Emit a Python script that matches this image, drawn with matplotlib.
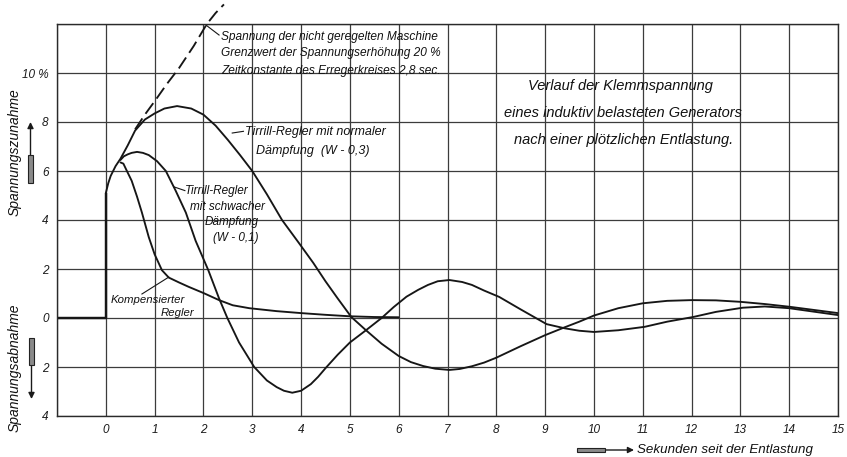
import matplotlib
matplotlib.use("Agg")
import matplotlib.pyplot as plt
from matplotlib.patches import Rectangle

plt.rcParams['font.family'] = ['Liberation Sans', 'DejaVu Sans']
plt.rcParams['font.style'] = 'italic'

# ---------------- data ----------------
t_before = [-1, 0, 0]
v_before = [0, 0, 5.1]

t_uncontrolled = [0.6, 0.8, 1.02, 1.25, 1.5, 1.8, 2.07, 2.25, 2.42]
v_uncontrolled = [7.7, 8.3, 8.9, 9.55, 10.2, 11.1, 12.0, 12.45, 12.8]

t_normal = [0, 0.05, 0.1, 0.2, 0.3, 0.45, 0.6, 0.8, 1.0, 1.2, 1.46, 1.75, 2.0, 2.25, 2.5,
            2.75, 3.0, 3.3, 3.61, 3.96, 4.25, 4.5, 4.75, 5.03, 5.33, 5.65, 6.0, 6.25, 6.5,
            6.75, 7.04, 7.25, 7.5, 7.75, 8.0, 8.5, 9.0, 9.4, 9.7, 10.0, 10.5, 11.0, 11.5,
            12.0, 12.5, 13.0, 13.5, 14.0, 14.5, 15.0]
v_normal = [5.1, 5.5, 5.8, 6.2, 6.5, 7.05, 7.65, 8.1, 8.35, 8.55, 8.65, 8.55, 8.3, 7.85, 7.27,
            6.65, 6.0, 5.05, 4.0, 3.05, 2.25, 1.5, 0.8, 0.04, -0.5, -1.05, -1.55, -1.8, -1.96,
            -2.07, -2.12, -2.08, -1.97, -1.82, -1.62, -1.15, -0.7, -0.38, -0.15, 0.1, 0.4, 0.6,
            0.7, 0.73, 0.72, 0.66, 0.57, 0.46, 0.33, 0.2]

t_weak = [0.3, 0.37, 0.45, 0.53, 0.64, 0.76, 0.88, 1.05, 1.23, 1.43, 1.64, 1.84, 2.1, 2.32,
          2.49, 2.73, 3.04, 3.3, 3.5, 3.65, 3.82, 4.0, 4.2, 4.35, 4.5, 4.75, 5.0, 5.33, 5.65,
          5.9, 6.16, 6.4, 6.6, 6.8, 7.04, 7.3, 7.5, 7.75, 8.06, 8.5, 9.03, 9.4, 9.7, 10.0,
          10.5, 11.04, 11.5, 12.03, 12.5, 13.05, 13.5, 14.0, 14.5, 15.0]
v_weak = [6.45, 6.6, 6.68, 6.74, 6.78, 6.74, 6.65, 6.4, 6.0, 5.2, 4.3, 3.15, 1.95, 0.8,
          0.0, -1.0, -2.0, -2.55, -2.82, -2.97, -3.05, -2.97, -2.7, -2.4, -2.05, -1.5, -1.0,
          -0.5, 0.0, 0.45, 0.87, 1.15, 1.35, 1.5, 1.55, 1.47, 1.35, 1.12, 0.86, 0.35, -0.25,
          -0.42, -0.52, -0.57, -0.5, -0.36, -0.15, 0.04, 0.25, 0.42, 0.47, 0.4, 0.26, 0.12]

t_comp = [0.3, 0.36, 0.42, 0.53, 0.64, 0.74, 0.88, 1.0, 1.15, 1.29, 1.5, 1.7, 2.0, 2.32,
          2.6, 2.94, 3.5, 4.0, 4.5, 5.0, 5.5, 6.0]
v_comp = [6.35, 6.3, 6.05, 5.6, 4.95, 4.3, 3.3, 2.6, 1.95, 1.65, 1.45, 1.27, 1.02, 0.73,
          0.52, 0.4, 0.28, 0.2, 0.13, 0.07, 0.04, 0.03]

x_ticks = list(range(-1, 16))
x_ticklabels = [''] + [str(i) for i in range(0, 16)]
y_ticks = [-4, -2, 0, 2, 4, 6, 8, 10, 12]
y_ticklabels = ['4', '2', '0', '2', '4', '6', '8', '10 %', '']

# ---------------- figure ----------------
W, H = 847, 457
fig = plt.figure(figsize=(W / 100, H / 100), dpi=100)
ax = fig.add_axes([57 / W, 41 / H, 781 / W, 392 / H])
ax.set_xlim(-1, 15)
ax.set_ylim(-4, 12)

ax.set_xticks(x_ticks)
ax.set_xticklabels(x_ticklabels)
ax.set_yticks(y_ticks)
ax.set_yticklabels(y_ticklabels)
ax.tick_params(length=0, labelsize=8.5, colors='#1a1a1a')
ax.tick_params(axis='x', pad=6)
ax.tick_params(axis='y', pad=6)
ax.grid(True, color='#3c3c3c', lw=0.9)
ax.set_axisbelow(True)
for s in ax.spines.values():
    s.set_color('#2a2a2a')
    s.set_linewidth(1.0)

lc = '#161616'
lw = 1.35
kw = dict(color=lc, lw=lw, solid_joinstyle='round', solid_capstyle='round')
ax.plot(t_before, v_before, color=lc, lw=lw + 0.4, solid_capstyle='butt')
ax.plot(t_normal, v_normal, **kw)
ax.plot(t_weak, v_weak, **kw)
ax.plot(t_comp, v_comp, **kw)
ax.plot(t_uncontrolled, v_uncontrolled, color=lc, lw=1.35, linestyle=(0, (7, 3)),
        clip_on=False)

# ---------------- annotations ----------------
fs_small = 8.6
tc = '#111111'
# uncontrolled machine
ax.plot([2.05, 2.32], [11.96, 11.55], color=lc, lw=0.8, clip_on=False)
ax.text(2.36, 11.47, 'Spannung der nicht geregelten Maschine', fontsize=fs_small,
        va='center', ha='left', color=tc)
ax.text(2.36, 10.82, 'Grenzwert der Spannungserhöhung 20 %', fontsize=fs_small,
        va='center', ha='left', color=tc)
ax.text(2.36, 10.1, 'Zeitkonstante des Erregerkreises 2,8 sec.', fontsize=fs_small,
        va='center', ha='left', color=tc)

# normal damping
ax.plot([2.59, 2.82], [7.55, 7.62], color=lc, lw=0.8)
ax.text(2.85, 7.6, 'Tirrill-Regler mit normaler', fontsize=9, va='center', ha='left', color=tc)
ax.text(3.08, 6.8, 'Dämpfung  (W - 0,3)', fontsize=9, va='center', ha='left', color=tc)

# weak damping
ax.plot([1.4, 1.62], [5.35, 5.2], color=lc, lw=0.8)
ax.text(1.63, 5.2, 'Tirrill-Regler', fontsize=8.5, va='center', ha='left', color=tc)
ax.text(1.72, 4.52, 'mit schwacher', fontsize=8.5, va='center', ha='left', color=tc)
ax.text(2.02, 3.9, 'Dämpfung', fontsize=8.5, va='center', ha='left', color=tc)
ax.text(2.2, 3.25, '(W - 0,1)', fontsize=8.5, va='center', ha='left', color=tc)

# compensated
ax.plot([1.29, 0.74], [1.67, 0.98], color=lc, lw=0.8)
ax.text(0.1, 0.74, 'Kompensierter', fontsize=8.2, va='center', ha='left', color=tc)
ax.text(1.12, 0.2, 'Regler', fontsize=8.2, va='center', ha='left', color=tc)

# title block
ax.text(10.55, 9.45, 'Verlauf der Klemmspannung', fontsize=10.5, va='center', ha='center', color=tc)
ax.text(10.6, 8.35, 'eines induktiv belasteten Generators', fontsize=10.5, va='center', ha='center', color=tc)
ax.text(10.6, 7.25, 'nach einer plötzlichen Entlastung.', fontsize=10.5, va='center', ha='center', color=tc)

# ---------------- axis titles with arrows ----------------
fig.text(15 / W, 1 - 152 / H, 'Spannungszunahme', rotation=90, fontsize=10,
         va='center', ha='center', color=tc)
fig.text(15 / W, 1 - 368 / H, 'Spannungsabnahme', rotation=90, fontsize=10,
         va='center', ha='center', color=tc)
fig.text(637 / W, 1 - 450 / H, 'Sekunden seit der Entlastung', fontsize=9.6,
         va='center', ha='left', color=tc)

def px(x, y):
    return (x / W, 1 - y / H)

# up arrow
fig.add_artist(Rectangle(px(28, 183), 5 / W, 28 / H, transform=fig.transFigure,
                         facecolor='#8a8a8a', edgecolor='#222222', lw=0.8))
ax.annotate('', xy=(30.5, H - 122), xytext=(30.5, H - 155), xycoords='figure pixels',
            textcoords='figure pixels',
            arrowprops=dict(arrowstyle='-|>', color='#1a1a1a', lw=1.0, mutation_scale=9,
                            shrinkA=0, shrinkB=0))
# down arrow
fig.add_artist(Rectangle(px(29, 365), 5 / W, 27 / H, transform=fig.transFigure,
                         facecolor='#8a8a8a', edgecolor='#222222', lw=0.8))
ax.annotate('', xy=(31.5, H - 399), xytext=(31.5, H - 365), xycoords='figure pixels',
            textcoords='figure pixels',
            arrowprops=dict(arrowstyle='-|>', color='#1a1a1a', lw=1.0, mutation_scale=9,
                            shrinkA=0, shrinkB=0))
# right arrow
fig.add_artist(Rectangle(px(577, 452), 28 / W, 4 / H, transform=fig.transFigure,
                         facecolor='#8a8a8a', edgecolor='#222222', lw=0.8))
ax.annotate('', xy=(634, H - 450), xytext=(605, H - 450), xycoords='figure pixels',
            textcoords='figure pixels',
            arrowprops=dict(arrowstyle='-|>', color='#1a1a1a', lw=1.0, mutation_scale=9,
                            shrinkA=0, shrinkB=0))

fig.savefig('out.png', dpi=100, facecolor='white')
